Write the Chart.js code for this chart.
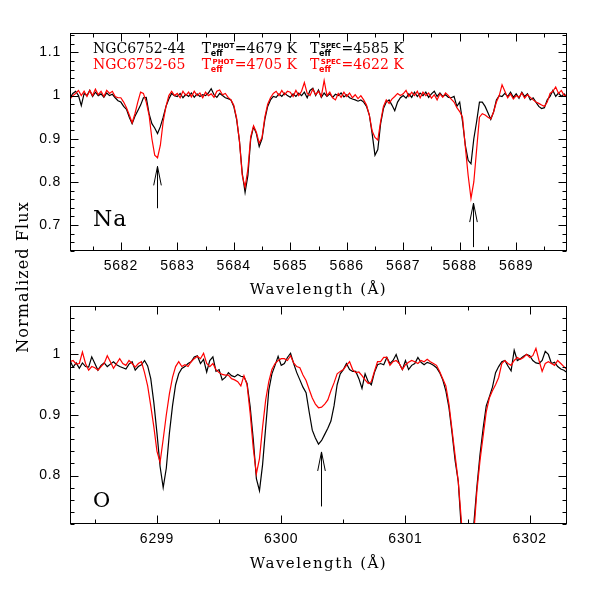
<!DOCTYPE html>
<html>
<head>
<meta charset="utf-8">
<title>NGC6752 Na and O lines</title>
<script src="https://cdn.jsdelivr.net/npm/chart.js@4/dist/chart.umd.min.js"></script>
<style>
  body { margin: 0; background: #fff; }
  #wrap { position: relative; width: 598px; height: 598px; }
  #wrap canvas { position: absolute; left: 0; top: 0; }
</style>
</head>
<body>
<div id="wrap">
  <canvas id="na" width="598" height="598"></canvas>
  <canvas id="oxy" width="598" height="598"></canvas>
</div>
<script>
// stars and temperatures shown in the legend
const stars = ['NGC6752-44', 'NGC6752-65'];
const tPhot = [4679, 4705];
const tSpec = [4585, 4622];
const starColors = ['#000000', '#ff0000'];

// --- Na panel ---
const naXTicks = [5682, 5683, 5684, 5685, 5686, 5687, 5688, 5689];
const naYTicks = [0.7, 0.8, 0.9, 1, 1.1];
const naWave = [
  5681.10,5681.15,5681.20,5681.25,5681.30,5681.35,5681.40,5681.45,5681.50,5681.55,5681.60,5681.65,5681.70,5681.75,5681.80,5681.85,5681.90,5681.95,
  5682.00,5682.05,5682.10,5682.15,5682.20,5682.25,5682.30,5682.35,5682.40,5682.45,5682.50,5682.55,5682.60,5682.65,5682.70,5682.75,5682.80,5682.85,5682.90,5682.95,
  5683.00,5683.05,5683.10,5683.15,5683.20,5683.25,5683.30,5683.35,5683.40,5683.45,5683.50,5683.55,5683.60,5683.65,5683.70,5683.75,5683.80,5683.85,5683.90,5683.95,
  5684.00,5684.05,5684.10,5684.15,5684.20,5684.25,5684.30,5684.35,5684.40,5684.45,5684.50,5684.55,5684.60,5684.65,5684.70,5684.75,5684.80,5684.85,5684.90,5684.95,
  5685.00,5685.05,5685.10,5685.15,5685.20,5685.25,5685.30,5685.35,5685.40,5685.45,5685.50,5685.55,5685.60,5685.65,5685.70,5685.75,5685.80,5685.85,5685.90,5685.95,
  5686.00,5686.05,5686.10,5686.15,5686.20,5686.25,5686.30,5686.35,5686.40,5686.45,5686.50,5686.55,5686.60,5686.65,5686.70,5686.75,5686.80,5686.85,5686.90,5686.95,
  5687.00,5687.05,5687.10,5687.15,5687.20,5687.25,5687.30,5687.35,5687.40,5687.45,5687.50,5687.55,5687.60,5687.65,5687.70,5687.75,5687.80,5687.85,5687.90,5687.95,
  5688.00,5688.05,5688.10,5688.15,5688.20,5688.25,5688.30,5688.35,5688.40,5688.45,5688.50,5688.55,5688.60,5688.65,5688.70,5688.75,5688.80,5688.85,5688.90,5688.95,
  5689.00,5689.05,5689.10,5689.15,5689.20,5689.25,5689.30,5689.35,5689.40,5689.45,5689.50,5689.55,5689.60,5689.65,5689.70,5689.75,5689.80,5689.85,5689.90
];
const naStar44 = [
  0.995,1.005,1.010,1.000,0.977,1.005,1.000,1.012,0.998,1.008,1.000,1.004,0.996,1.006,1.000,1.003,0.995,0.988,
  0.985,0.975,0.968,0.950,0.935,0.952,0.965,0.978,0.995,0.996,0.958,0.935,0.925,0.912,0.928,0.950,0.975,0.992,1.005,1.000,
  0.998,1.005,0.995,1.003,0.998,1.006,0.996,1.004,0.998,1.002,1.000,1.006,1.016,1.002,0.996,1.005,1.000,0.995,0.993,0.990,
  0.975,0.945,0.895,0.820,0.776,0.815,0.900,0.928,0.912,0.882,0.900,0.945,0.975,0.990,0.998,0.996,1.004,0.998,1.006,1.000,
  0.996,1.004,0.998,1.006,1.000,1.008,0.995,1.012,1.017,1.000,1.013,0.996,1.006,0.998,1.004,0.996,1.003,1.000,1.006,0.997,
  1.002,0.995,0.992,0.990,0.987,0.990,0.985,0.975,0.955,0.912,0.862,0.875,0.935,0.970,0.985,0.990,0.978,0.965,0.985,0.995,
  1.000,0.994,1.004,0.996,1.008,0.998,1.006,1.000,1.008,0.996,1.004,1.010,0.998,1.006,0.998,1.002,0.996,0.995,0.998,0.975,
  0.985,0.940,0.885,0.850,0.842,0.900,0.940,0.985,0.985,0.975,0.960,0.945,0.962,0.990,1.000,0.998,1.005,0.998,1.008,0.996,
  1.004,0.994,1.008,0.998,1.004,0.990,0.995,0.985,0.975,0.970,0.972,0.990,0.998,1.012,0.998,1.006,0.998,1.004,0.995
];
const naStar65 = [
  0.992,1.000,1.005,1.012,1.000,1.010,0.998,1.012,1.000,1.015,1.002,1.010,0.998,1.012,1.005,1.010,0.998,0.995,
  0.995,0.985,0.972,0.955,0.937,0.958,0.985,1.008,1.005,0.985,0.955,0.900,0.862,0.856,0.885,0.940,0.975,1.000,1.010,1.000,
  1.005,0.995,1.010,1.000,1.008,0.997,1.010,1.000,1.006,0.995,1.008,1.000,1.004,0.996,1.010,1.013,1.002,1.005,0.996,0.990,
  0.978,0.948,0.895,0.815,0.788,0.830,0.905,0.930,0.915,0.890,0.903,0.950,0.980,0.995,1.005,1.010,1.000,1.012,1.002,1.010,
  1.008,0.998,1.012,1.000,1.010,1.030,1.005,1.000,1.015,1.002,1.010,0.998,1.035,1.000,1.008,0.995,0.990,1.005,0.996,1.008,
  0.998,1.006,0.995,1.002,0.993,1.000,0.990,0.978,0.955,0.918,0.903,0.897,0.940,0.975,0.990,0.982,0.992,0.998,1.005,1.000,
  1.004,1.012,0.998,1.008,1.000,1.010,0.995,1.008,1.000,1.006,0.994,1.002,0.990,1.004,0.996,1.006,1.000,0.992,0.985,0.972,
  0.963,0.950,0.881,0.815,0.762,0.800,0.875,0.950,0.958,0.955,0.950,0.946,0.962,0.985,1.000,1.025,1.010,0.995,1.004,0.992,
  1.000,0.996,1.006,0.994,1.002,0.996,0.990,0.985,0.982,0.978,0.975,0.985,1.005,1.010,1.020,1.005,1.012,1.000,1.002
];
// arrows: [wavelength, flux at tail, flux at tip]
const naArrows = [[5682.64, 0.739, 0.836], [5688.24, 0.649, 0.751]];

// --- O panel ---
const oXTicks = [6299, 6300, 6301, 6302];
const oYTicks = [0.8, 0.9, 1];
const oWave = [
  6298.300,6298.325,6298.350,6298.375,6298.400,6298.425,6298.450,6298.475,6298.500,6298.525,
  6298.550,6298.575,6298.600,6298.625,6298.650,6298.675,6298.700,6298.725,6298.750,6298.775,
  6298.800,6298.825,6298.850,6298.875,6298.900,6298.925,6298.950,6298.975,6299.000,6299.025,
  6299.050,6299.075,6299.100,6299.125,6299.150,6299.175,6299.200,6299.225,6299.250,6299.275,
  6299.300,6299.325,6299.350,6299.375,6299.400,6299.425,6299.450,6299.475,6299.500,6299.525,
  6299.550,6299.575,6299.600,6299.625,6299.650,6299.675,6299.700,6299.725,6299.750,6299.775,
  6299.800,6299.825,6299.850,6299.875,6299.900,6299.925,6299.950,6299.975,6300.000,6300.025,
  6300.050,6300.075,6300.100,6300.125,6300.150,6300.175,6300.200,6300.225,6300.250,6300.275,
  6300.300,6300.325,6300.350,6300.375,6300.400,6300.425,6300.450,6300.475,6300.500,6300.525,
  6300.550,6300.575,6300.600,6300.625,6300.650,6300.675,6300.700,6300.725,6300.750,6300.775,
  6300.800,6300.825,6300.850,6300.875,6300.900,6300.925,6300.950,6300.975,6301.000,6301.025,
  6301.050,6301.075,6301.100,6301.125,6301.150,6301.175,6301.200,6301.225,6301.250,6301.275,
  6301.300,6301.325,6301.350,6301.375,6301.400,6301.425,6301.450,6301.475,6301.500,6301.525,
  6301.550,6301.575,6301.600,6301.625,6301.650,6301.675,6301.700,6301.725,6301.750,6301.775,
  6301.800,6301.825,6301.850,6301.875,6301.900,6301.925,6301.950,6301.975,6302.000,6302.025,
  6302.050,6302.075,6302.100,6302.125,6302.150,6302.175,6302.200,6302.225,6302.250,6302.275,
  6302.300
];
const oStar44 = [
  0.990,0.979,0.986,0.977,0.986,0.980,0.979,0.996,0.985,0.974,
  0.982,0.986,0.980,0.984,0.988,0.983,0.980,0.978,0.976,0.984,
  0.988,0.974,0.980,0.983,0.990,0.981,0.960,0.920,0.870,0.815,
  0.780,0.812,0.870,0.915,0.950,0.968,0.977,0.980,0.985,0.988,
  0.996,0.998,0.985,0.992,0.971,0.990,0.996,0.972,0.975,0.958,
  0.962,0.970,0.965,0.963,0.967,0.964,0.963,0.952,0.914,0.860,
  0.795,0.775,0.818,0.880,0.941,0.968,0.982,0.997,0.982,0.985,
  0.995,1.002,0.985,0.970,0.958,0.946,0.937,0.905,0.875,0.862,
  0.852,0.858,0.868,0.878,0.890,0.915,0.950,0.968,0.975,0.985,
  0.975,0.972,0.972,0.960,0.944,0.968,0.955,0.950,0.970,0.983,
  0.985,0.983,0.995,0.985,0.990,1.000,0.985,0.975,0.990,0.975,
  0.982,0.985,0.995,0.987,0.983,0.987,0.985,0.982,0.978,0.970,
  0.958,0.940,0.912,0.870,0.824,0.790,0.710,0.640,0.600,0.630,
  0.720,0.782,0.835,0.878,0.915,0.930,0.946,0.970,0.980,0.988,
  0.990,0.981,0.973,1.007,0.990,0.993,0.997,1.000,0.998,0.990,
  0.986,0.985,0.990,1.005,1.000,0.985,0.987,0.980,0.976,0.974,
  0.970
];
const oStar65 = [
  0.988,0.990,0.984,0.985,1.004,0.985,0.974,0.980,0.978,0.974,
  0.980,0.985,0.998,0.988,0.977,0.985,0.993,0.985,0.982,0.990,
  0.985,0.979,0.985,0.988,0.970,0.948,0.915,0.880,0.840,0.822,
  0.860,0.900,0.935,0.962,0.980,0.988,0.980,0.983,0.980,0.988,
  0.993,0.997,0.993,1.002,0.985,0.980,0.985,0.975,0.970,0.967,
  0.966,0.966,0.960,0.958,0.955,0.948,0.965,0.950,0.903,0.845,
  0.803,0.828,0.880,0.925,0.955,0.975,0.985,0.990,0.993,0.993,
  0.990,0.998,0.986,0.980,0.978,0.966,0.957,0.942,0.928,0.918,
  0.912,0.913,0.918,0.925,0.940,0.953,0.968,0.972,0.975,0.982,
  0.988,0.975,0.970,0.971,0.965,0.958,0.952,0.955,0.972,0.988,
  0.988,0.995,0.995,0.982,0.988,0.990,0.985,0.975,0.983,0.987,
  0.990,0.988,0.985,0.990,0.988,0.992,0.988,0.985,0.982,0.972,
  0.960,0.948,0.918,0.875,0.832,0.790,0.725,0.650,0.600,0.625,
  0.705,0.775,0.825,0.865,0.905,0.928,0.940,0.950,0.962,0.985,
  0.990,0.985,0.982,0.990,0.995,0.992,0.995,1.000,0.995,0.998,
  1.010,0.990,0.972,0.985,0.988,0.985,0.982,0.990,0.985,0.980,
  0.975
];
const oArrows = [[6300.32, 0.749, 0.839]];

const serif = '"DejaVu Serif", serif';
const tickFont = { family: '"Liberation Sans", Arial, sans-serif', size: 14 };

function setText(ctx, font, color, align, spacing, baseline) {
  ctx.font = font;
  ctx.fillStyle = color;
  ctx.textAlign = align || 'left';
  ctx.textBaseline = baseline || 'alphabetic';
  ctx.letterSpacing = spacing || '0px';
}

function drawArrows(chart, list) {
  const { ctx, scales: { x, y } } = chart;
  ctx.strokeStyle = '#000';
  ctx.lineWidth = 1;
  list.forEach(a => {
    const px = Math.round(x.getPixelForValue(a[0])) + 0.5;
    const yb = y.getPixelForValue(a[1]);
    const yt = y.getPixelForValue(a[2]);
    ctx.beginPath();
    ctx.moveTo(px, yb);
    ctx.lineTo(px, yt);
    ctx.moveTo(px - 3.8, yt + 19);
    ctx.lineTo(px, yt);
    ctx.lineTo(px + 3.8, yt + 19);
    ctx.stroke();
  });
}

function xTitle(chart, baseY) {
  const { ctx, chartArea } = chart;
  setText(ctx, '15px ' + serif, '#000', 'center', '1.5px');
  ctx.fillText('Wavelength (\u00c5)', (chartArea.left + chartArea.right) / 2, baseY);
}

// box with inward major/minor ticks on all four sides
function frameTicks(xMajor, xMinor, yMajor, yMinor) {
  return {
    id: 'frameTicks',
    beforeDraw(chart) {
      chart.ctx.letterSpacing = '0.8px';
    },
    afterDatasetsDraw(chart) {
      const { ctx, chartArea: a, scales: { x, y } } = chart;
      const L = Math.round(a.left) + 0.5, R = Math.round(a.right) - 0.5;
      const T = Math.round(a.top) + 0.5, B = Math.round(a.bottom) - 0.5;
      ctx.save();
      ctx.strokeStyle = '#000';
      ctx.lineWidth = 1;
      ctx.strokeRect(L, T, R - L, B - T);
      ctx.beginPath();
      for (let i = Math.ceil(x.min / xMinor - 1e-6); i * xMinor <= x.max + 1e-6; i++) {
        const v = i * xMinor;
        const len = Math.abs(v / xMajor - Math.round(v / xMajor)) < 1e-6 ? 8 : 4;
        const px = Math.round(x.getPixelForValue(v)) + 0.5;
        ctx.moveTo(px, B); ctx.lineTo(px, B - len);
        ctx.moveTo(px, T); ctx.lineTo(px, T + len);
      }
      for (let i = Math.ceil(y.min / yMinor - 1e-6); i * yMinor <= y.max + 1e-6; i++) {
        const v = i * yMinor;
        const len = Math.abs(v / yMajor - Math.round(v / yMajor)) < 1e-6 ? 8 : 4;
        const py = Math.round(y.getPixelForValue(v)) + 0.5;
        ctx.moveTo(L, py); ctx.lineTo(L + len, py);
        ctx.moveTo(R, py); ctx.lineTo(R - len, py);
      }
      ctx.stroke();
      ctx.restore();
    }
  };
}

const naDecor = {
  id: 'naDecor',
  afterDraw(chart) {
    const ctx = chart.ctx;
    ctx.save();
    for (let i = 0; i < stars.length; i++) {
      const base = 53 + 16 * i, col = starColors[i];
      setText(ctx, '14px ' + serif, col);
      ctx.fillText(stars[i], 93, base);
      [[201.7, 'PHOT', tPhot[i]], [310, 'SPEC', tSpec[i]]].forEach(t => {
        setText(ctx, '14px ' + serif, col);
        ctx.fillText('T', t[0], base);
        const tEnd = t[0] + ctx.measureText('T').width;
        setText(ctx, 'bold 7px "DejaVu Sans", sans-serif', col);
        ctx.fillText(t[1], tEnd + 1.5, base - 5.5);
        const supEnd = tEnd + 1.5 + ctx.measureText(t[1]).width;
        setText(ctx, 'bold 8px "DejaVu Sans", sans-serif', col);
        ctx.fillText('eff', tEnd - 0.3, base + 3);
        setText(ctx, '14px ' + serif, col);
        ctx.fillText('=' + t[2] + ' K', supEnd + 0.5, base);
      });
    }
    setText(ctx, '22px ' + serif, '#000', 'left', '1px');
    ctx.fillText('Na', 93, 226);
    xTitle(chart, 294);
    drawArrows(chart, naArrows);
    ctx.restore();
  }
};

const oDecor = {
  id: 'oDecor',
  afterDraw(chart) {
    const ctx = chart.ctx;
    ctx.save();
    setText(ctx, '21px ' + serif, '#000');
    ctx.fillText('O', 93, 507);
    xTitle(chart, 568);
    drawArrows(chart, oArrows);
    // shared y title for both panels
    ctx.translate(28, 277);
    ctx.rotate(-Math.PI / 2);
    setText(ctx, '16px ' + serif, '#000', 'center', '1.1px');
    ctx.fillText('Normalized Flux', 0, 0);
    ctx.restore();
  }
};

function makePanel(id, p) {
  const series = (flux) => p.wave.map((w, i) => ({ x: w, y: flux[i] }));
  return new Chart(document.getElementById(id), {
    type: 'line',
    data: {
      datasets: [
        { label: stars[1], data: series(p.red), borderColor: starColors[1], borderWidth: 1.2, pointRadius: 0, tension: 0 },
        { label: stars[0], data: series(p.black), borderColor: starColors[0], borderWidth: 1.2, pointRadius: 0, tension: 0 }
      ]
    },
    options: {
      responsive: false,
      animation: false,
      devicePixelRatio: 1,
      layout: { padding: p.padding },
      plugins: { legend: { display: false }, tooltip: { enabled: false } },
      scales: {
        x: {
          type: 'linear', min: p.xRange[0], max: p.xRange[1],
          afterBuildTicks: s => { s.ticks = p.xTicks.map(v => ({ value: v })); },
          afterFit: s => { s.height = 49; },
          grid: { display: false, drawTicks: false },
          border: { display: false },
          ticks: { autoSkip: false, maxRotation: 0, padding: 7, color: '#000', font: tickFont, callback: v => String(v) }
        },
        y: {
          type: 'linear', min: p.yRange[0], max: p.yRange[1],
          afterBuildTicks: s => { s.ticks = p.yTicks.map(v => ({ value: v })); },
          afterFit: s => { s.width = 70; },
          grid: { display: false, drawTicks: false },
          border: { display: false },
          ticks: { autoSkip: false, padding: 9, color: '#000', font: tickFont, callback: v => String(v) }
        }
      }
    },
    plugins: [frameTicks(1, 0.5, 0.1, 0.02), p.decor]
  });
}

makePanel('na', {
  wave: naWave, black: naStar44, red: naStar65,
  xRange: [5681.1, 5689.9], yRange: [0.64, 1.145],
  xTicks: naXTicks, yTicks: naYTicks,
  padding: { left: 0, right: 31, top: 33, bottom: 298 },
  decor: naDecor
});

makePanel('oxy', {
  wave: oWave, black: oStar44, red: oStar65,
  xRange: [6298.3, 6302.3], yRange: [0.72, 1.08],
  xTicks: oXTicks, yTicks: oYTicks,
  padding: { left: 0, right: 31, top: 306, bottom: 25 },
  decor: oDecor
});
</script>
</body>
</html>
